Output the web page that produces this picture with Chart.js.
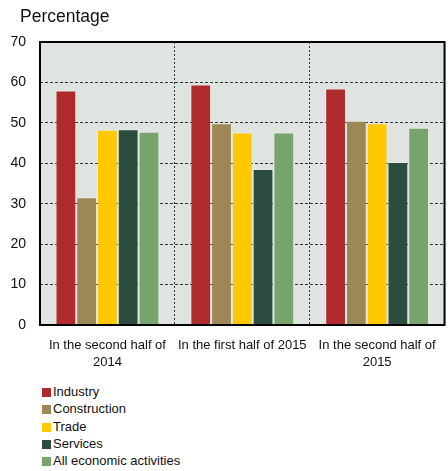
<!DOCTYPE html>
<html>
<head>
<meta charset="utf-8">
<script src="https://cdn.jsdelivr.net/npm/chart.js@4.4.1/dist/chart.umd.min.js"></script>
<style>
    body { margin: 0; background: #fff; font-family: "Liberation Sans", Arial, sans-serif; color: #111; }
    #wrap { position: relative; width: 448px; height: 471px; }
    #myChart { position: absolute; left: 0; top: 0; }
    #title { position: absolute; left: 20px; top: 6px; font-size: 17.5px; line-height: 20px; }
    #legend { position: absolute; left: 42px; top: 383px; font-size: 13px; line-height: 17.3px; }
    #legend div { white-space: nowrap; }
    #legend span { display: inline-block; width: 9px; height: 9px; margin-right: 2px; vertical-align: -1px; }
</style>
</head>
<body>
<div id="wrap">
    <canvas id="myChart" width="448" height="372"></canvas>
    <div id="title">Percentage</div>
    <div id="legend"></div>
</div>
<script>
    const periods = [['In the second half of', '2014'], 'In the first half of 2015', ['In the second half of', '2015']];
    const industry = [58.0, 59.5, 58.5];
    const construction = [31.6, 49.9, 50.5];
    const trade = [48.3, 47.6, 49.9];
    const services = [48.4, 38.6, 40.3];
    const allActivities = [47.8, 47.6, 48.8];
    const yTicks = [0, 10, 20, 30, 40, 50, 60, 70];

    // light grey plot background and a solid frame round the plot area
    const plotFrame = {
        id: 'plotFrame',
        beforeDraw(chart) {
            const a = chart.chartArea;
            const c = chart.ctx;
            c.save();
            c.fillStyle = '#e0e4e0';
            c.fillRect(a.left, a.top, a.right - a.left, a.bottom - a.top);
            c.restore();
        },
        afterDraw(chart) {
            const a = chart.chartArea;
            const c = chart.ctx;
            c.save();
            c.strokeStyle = '#000';
            c.lineWidth = 2;
            c.strokeRect(a.left, a.top, a.right - a.left, a.bottom - a.top);
            c.restore();
        }
    };

    const ctx = document.getElementById('myChart').getContext('2d');
    const myChart = new Chart(ctx, {
        type: 'bar',
        data: {
            labels: periods,
            datasets: [
                { label: 'Industry', data: industry, backgroundColor: '#b0292c' },
                { label: 'Construction', data: construction, backgroundColor: '#9c8855' },
                { label: 'Trade', data: trade, backgroundColor: '#ffc800' },
                { label: 'Services', data: services, backgroundColor: '#2c4c3f' },
                { label: 'All economic activities', data: allActivities, backgroundColor: '#77a36d' }
            ]
        },
        options: {
            responsive: false,
            animation: false,
            layout: { padding: { top: 42, left: 0, right: 2, bottom: 1 } },
            datasets: {
                bar: {
                    categoryPercentage: 0.77,
                    barPercentage: 1.0,
                    borderWidth: 1,
                    borderColor: 'rgba(255,255,255,0.25)',
                    borderSkipped: 'bottom'
                }
            },
            plugins: {
                legend: { display: false },
                tooltip: { enabled: false }
            },
            scales: {
                x: {
                    afterFit: (axis) => { axis.height = 46; },
                    grid: {
                        offset: true,
                        color: '#333',
                        lineWidth: 1,
                        drawTicks: false
                    },
                    border: { display: false, dash: [2, 2] },
                    ticks: {
                        color: '#111',
                        padding: 12,
                        maxRotation: 0,
                        autoSkip: false,
                        font: { family: 'Liberation Sans', size: 13, lineHeight: 1.3 }
                    }
                },
                y: {
                    min: yTicks[0],
                    max: yTicks[yTicks.length - 1],
                    afterBuildTicks: (axis) => { axis.ticks = yTicks.map(v => ({ value: v })); },
                    afterFit: (axis) => { axis.width = 40; },
                    grid: {
                        color: '#333',
                        lineWidth: 1,
                        drawTicks: false
                    },
                    border: { display: false, dash: [3, 2] },
                    ticks: {
                        color: '#111',
                        padding: 14,
                        font: { family: 'Liberation Sans', size: 14 }
                    }
                }
            }
        },
        plugins: [plotFrame]
    });

    // vertical legend under the chart, one row per series
    const legend = document.getElementById('legend');
    myChart.data.datasets.forEach(ds => {
        const row = document.createElement('div');
        const box = document.createElement('span');
        box.style.background = ds.backgroundColor;
        row.appendChild(box);
        row.appendChild(document.createTextNode(ds.label));
        legend.appendChild(row);
    });
</script>
</body>
</html>
